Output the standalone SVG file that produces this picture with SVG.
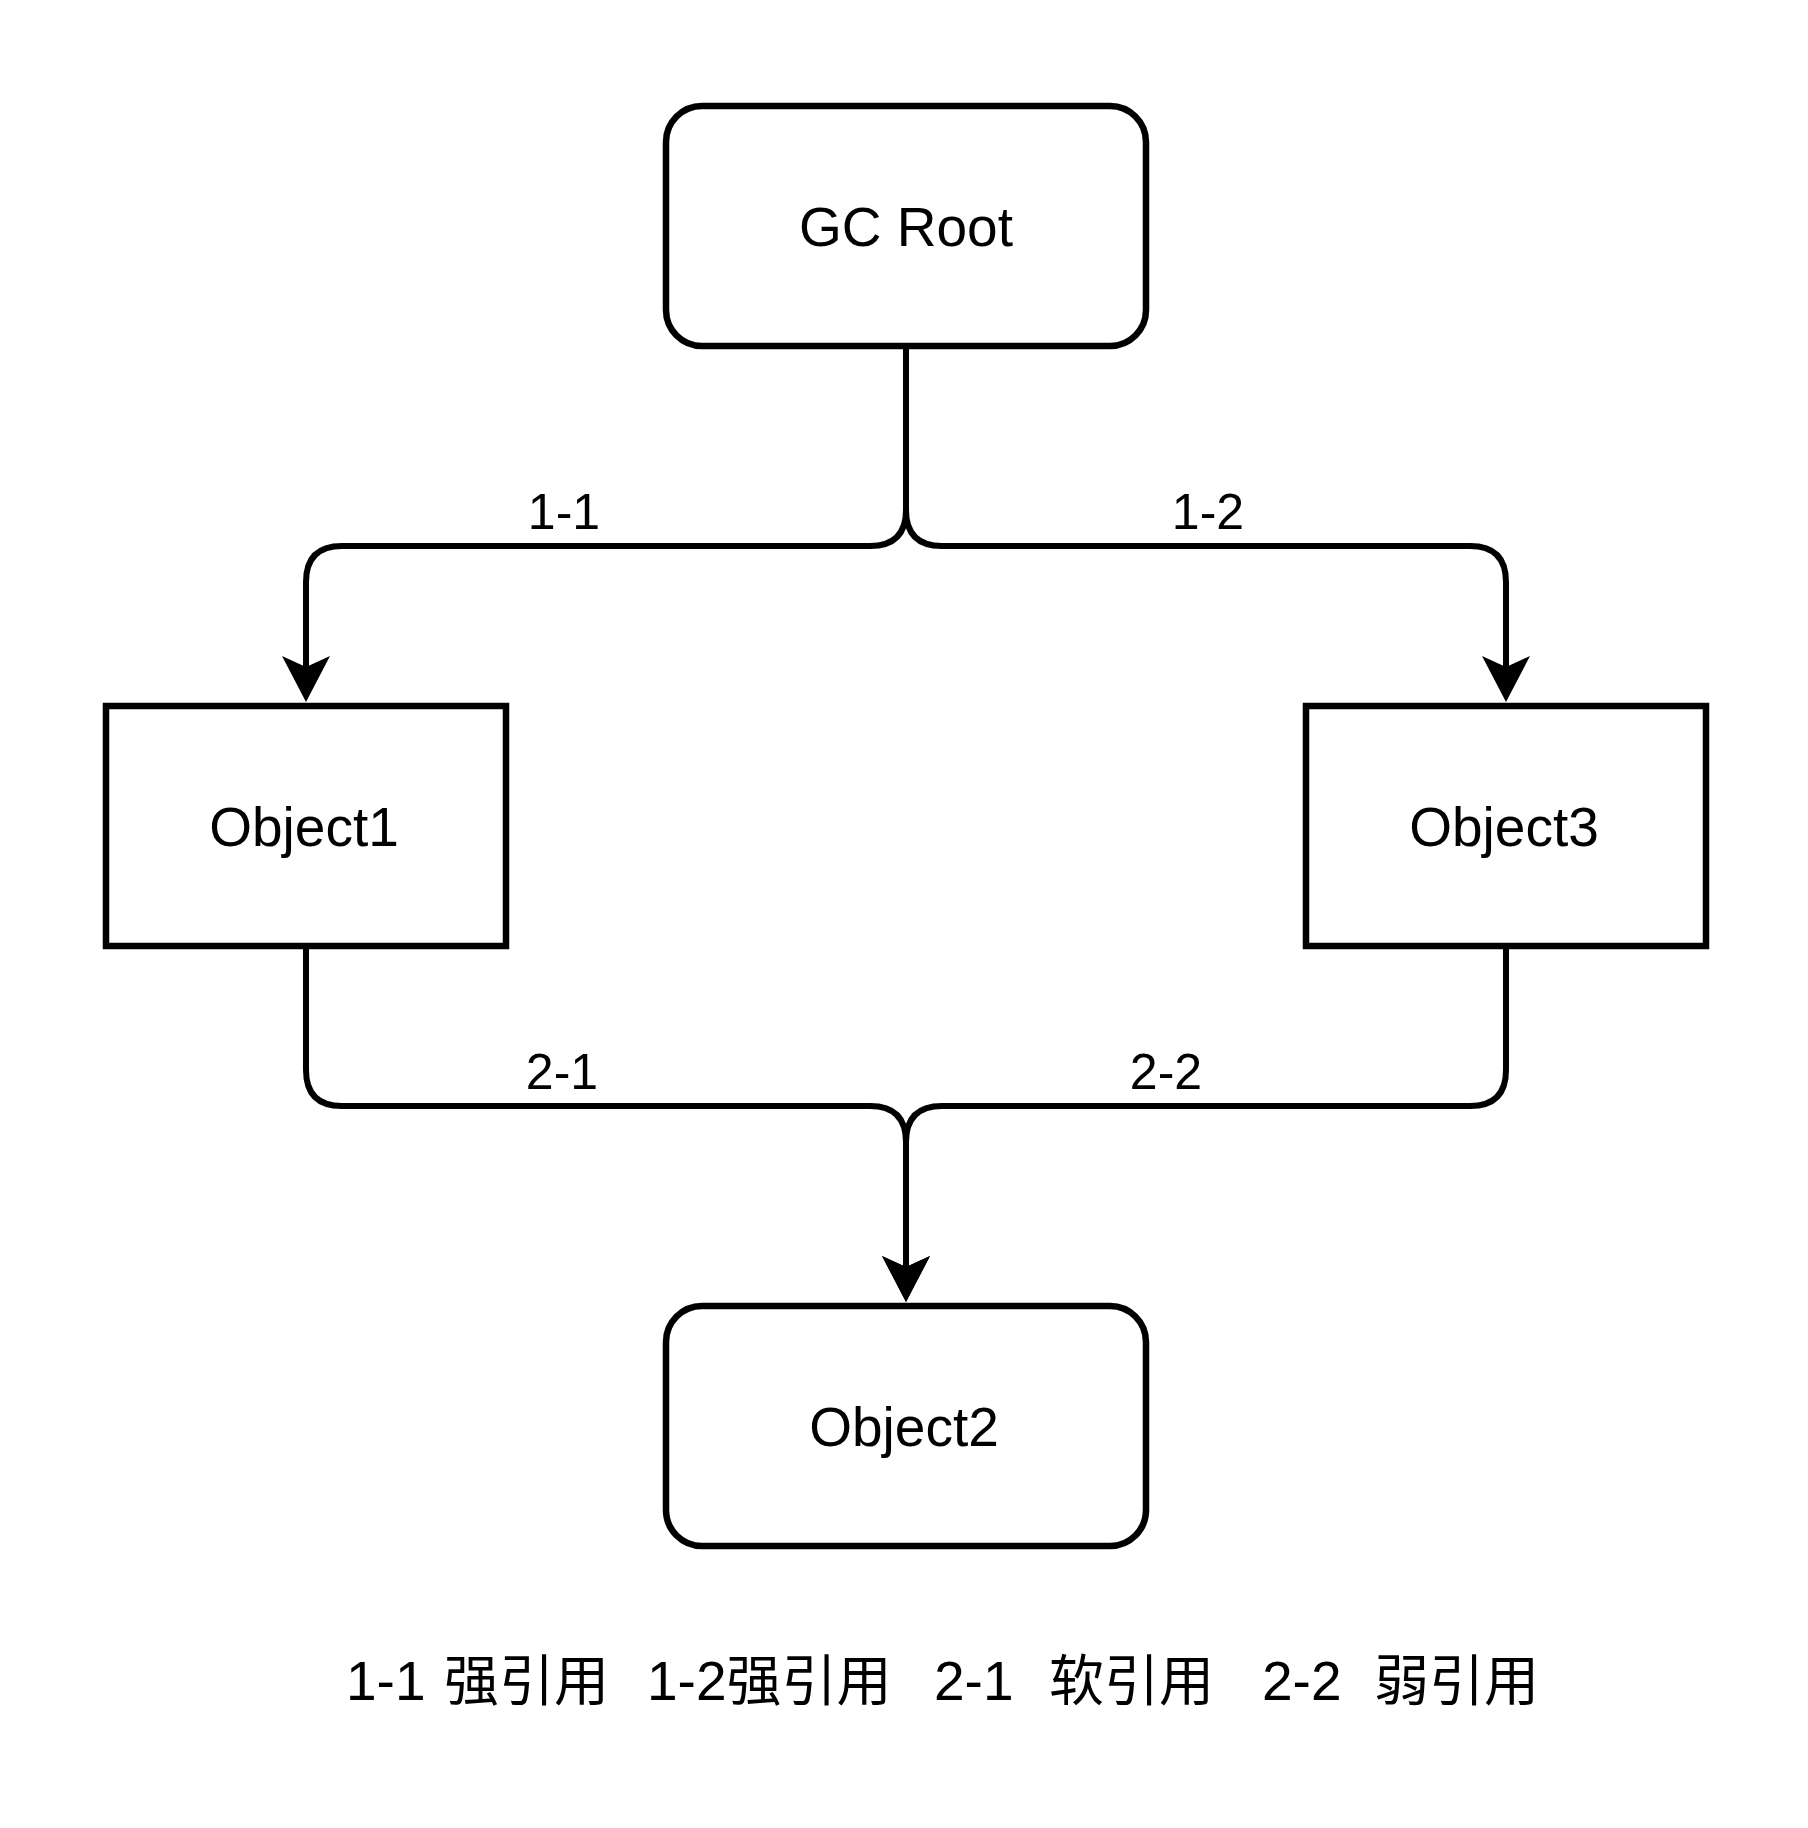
<svg xmlns="http://www.w3.org/2000/svg" width="1808" height="1828" viewBox="0 0 1808 1828">
  <style>
    .node { fill: #ffffff; stroke: #000000; stroke-width: 6.5; }
    .edge { fill: none; stroke: #000000; stroke-width: 6; }
    .label { font-family: "Liberation Sans", Arial, sans-serif; fill: #000000; text-anchor: middle; }
    .ntext { font-size: 55px; }
    .etext { font-size: 50px; }
    .legend { font-family: "Liberation Sans", "Noto Sans CJK SC", sans-serif; font-size: 55px; fill: #000000; }
  </style>
  <defs>
    <marker id="arrow" markerUnits="userSpaceOnUse" markerWidth="46" markerHeight="48" viewBox="0 0 46 48" refX="11" refY="24" orient="auto">
      <path d="M0,0 L46,24 L0,48 L11,24 Z" fill="#000000"/>
    </marker>
  </defs>
  <rect x="0" y="0" width="1808" height="1828" fill="#ffffff"/>

  <g id="connectors">
    <path class="edge" d="M906,346 V510 Q906,546 870,546 H342 Q306,546 306,582 V667" marker-end="url(#arrow)"/>
    <path class="edge" d="M906,346 V510 Q906,546 942,546 H1470 Q1506,546 1506,582 V667" marker-end="url(#arrow)"/>
    <path class="edge" d="M306,946 V1070 Q306,1106 342,1106 H870 Q906,1106 906,1142 V1267" marker-end="url(#arrow)"/>
    <path class="edge" d="M1506,946 V1070 Q1506,1106 1470,1106 H942 Q906,1106 906,1142 V1267" marker-end="url(#arrow)"/>
    <text class="label etext" x="564" y="529">1-1</text>
    <text class="label etext" x="1208" y="529">1-2</text>
    <text class="label etext" x="562" y="1089">2-1</text>
    <text class="label etext" x="1166" y="1089">2-2</text>
  </g>

  <g id="gc-root">
    <rect class="node" x="666" y="106" width="480" height="240" rx="36" ry="36"/>
    <text class="label ntext" x="906" y="246">GC Root</text>
  </g>
  <g id="object1">
    <rect class="node" x="106" y="706" width="400" height="240"/>
    <text class="label ntext" x="304" y="846">Object1</text>
  </g>
  <g id="object3">
    <rect class="node" x="1306" y="706" width="400" height="240"/>
    <text class="label ntext" x="1504" y="846">Object3</text>
  </g>
  <g id="object2">
    <rect class="node" x="666" y="1306" width="480" height="240" rx="36" ry="36"/>
    <text class="label ntext" x="904" y="1446">Object2</text>
  </g>

  <g id="legend">
    <text class="legend" y="1700"><tspan x="346">1-1</tspan><tspan x="444">强引用</tspan><tspan x="647">1-2强引用</tspan><tspan x="934">2-1</tspan><tspan x="1049">软引用</tspan><tspan x="1262">2-2</tspan><tspan x="1374">弱引用</tspan></text>
  </g>
</svg>
